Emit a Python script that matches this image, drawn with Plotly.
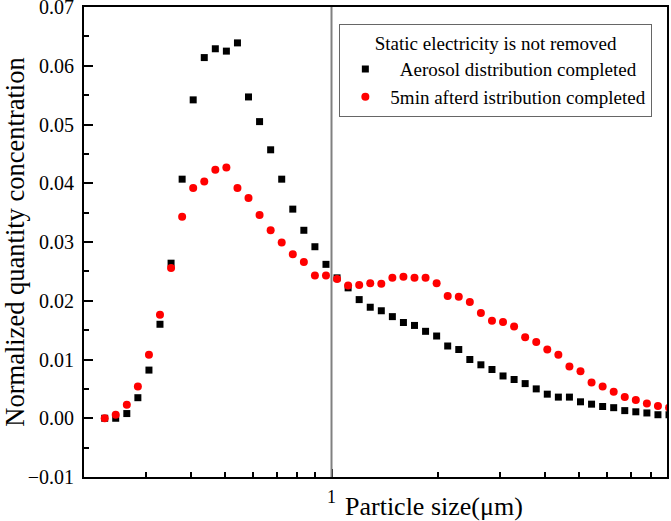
import math
import plotly.graph_objects as go

# particle size channels (um)
size_um = [0.2288, 0.2458, 0.2642, 0.2839, 0.3051, 0.3278, 0.3523, 0.3786, 0.4068, 0.4372,
           0.4698, 0.5048, 0.5425, 0.5829, 0.6264, 0.6732, 0.7234, 0.7774, 0.8354, 0.8977,
           0.9647, 1.0366, 1.1140, 1.1971, 1.2864, 1.3824, 1.4855, 1.5963, 1.7154, 1.8434,
           1.9810, 2.1288, 2.2876, 2.4583, 2.6417, 2.8388, 3.0506, 3.2782, 3.5228, 3.7856,
           4.0680, 4.3715, 4.6977, 5.0482, 5.4248, 5.8296, 6.2645, 6.7319, 7.2342, 7.7739,
           8.3539, 8.9772]

aerosol_done = [0.0000, 0.0000, 0.0008, 0.0035, 0.0082, 0.0160, 0.0264, 0.0407, 0.0542, 0.0614,
                0.0629, 0.0625, 0.0639, 0.0547, 0.0505, 0.0457, 0.0407, 0.0356, 0.0320, 0.0292,
                0.0262, 0.0239, 0.0222, 0.0202, 0.0189, 0.0183, 0.0173, 0.0163, 0.0158, 0.0148,
                0.0140, 0.0123, 0.0117, 0.0100, 0.0091, 0.0083, 0.0072, 0.0066, 0.0059, 0.0050,
                0.0041, 0.0036, 0.0036, 0.0028, 0.0024, 0.0020, 0.0018, 0.0013, 0.0011, 0.0009,
                0.0006, 0.0006]

after_5min = [0.0000, 0.0006, 0.0023, 0.0054, 0.0108, 0.0176, 0.0256, 0.0343, 0.0392, 0.0403,
              0.0423, 0.0427, 0.0392, 0.0375, 0.0346, 0.0320, 0.0299, 0.0279, 0.0266, 0.0243,
              0.0243, 0.0237, 0.0226, 0.0227, 0.0230, 0.0229, 0.0239, 0.0241, 0.0239, 0.0239,
              0.0230, 0.0208, 0.0207, 0.0198, 0.0179, 0.0166, 0.0164, 0.0156, 0.0138, 0.0130,
              0.0117, 0.0108, 0.0088, 0.0080, 0.0061, 0.0054, 0.0045, 0.0036, 0.0031, 0.0025,
              0.0021, 0.0018]

y_ticks = [-0.01, 0.00, 0.01, 0.02, 0.03, 0.04, 0.05, 0.06, 0.07]
x_minor = [0.3, 0.4, 0.5, 0.6, 0.7, 0.8, 0.9, 2, 3, 4, 5, 6, 7, 8]
x_major = [1]
x_range = [0.2, 8.86]
split_size = 1

FONT = "Liberation Serif, Times New Roman, serif"
NB = '\u00a0'

fig = go.Figure()
fig.add_trace(go.Scatter(x=size_um, y=aerosol_done, mode='markers',
                         name=NB * 2 + 'Aerosol distribution completed',
                         marker=dict(symbol='square', size=7, color='#000000')))
fig.add_trace(go.Scatter(x=size_um, y=after_5min, mode='markers', name='5min afterd istribution completed',
                         marker=dict(symbol='circle', size=8, color='#FF0000')))

fig.add_shape(type='line', x0=split_size, x1=split_size, xref='x', y0=0, y1=1, yref='paper',
              line=dict(color='#808080', width=2))

fig.add_annotation(text='Particle size(μm)', xref='paper', yref='paper', x=0.444, y=0,
                   xanchor='left', yanchor='middle', yshift=-29, showarrow=False,
                   font=dict(family=FONT, size=26, color='#000000'))

fig.update_xaxes(type='log', range=[math.log10(x_range[0]), math.log10(x_range[1])],
                 tickmode='array', tickvals=x_major, ticktext=[str(v) for v in x_major],
                 ticks='inside', ticklen=8, tickwidth=1.5, tickcolor='#000000',
                 minor=dict(tickmode='array', tickvals=x_minor, ticks='inside', ticklen=5,
                            tickwidth=1.5, tickcolor='#000000'),
                 showline=True, linecolor='#000000', linewidth=2, mirror=True,
                 showgrid=False, zeroline=False, automargin=False, ticklabelstandoff=2,
                 tickfont=dict(family=FONT, size=18, color='#000000'))
fig.update_yaxes(range=[-0.01, 0.07001], tickmode='array', tickvals=y_ticks,
                 ticktext=[f'{v:.2f}'.replace('-', '\u2212') for v in y_ticks],
                 ticks='inside', ticklen=9, tickwidth=1.5, tickcolor='#000000',
                 minor=dict(dtick=0.005, ticks='inside', ticklen=5, tickwidth=1.5, tickcolor='#000000'),
                 showline=True, linecolor='#000000', linewidth=2, mirror=True,
                 showgrid=False, zeroline=False, ticklabelstandoff=4, automargin=False,
                 ticklabeloverflow='allow',
                 tickfont=dict(family=FONT, size=20, color='#000000'),
                 title=dict(text='Normalized quantity concentration', standoff=11,
                            font=dict(family=FONT, size=26.5, color='#000000')))

fig.update_layout(width=671, height=521, margin=dict(l=84, r=4, t=7, b=44),
                  paper_bgcolor='white', plot_bgcolor='white', font=dict(family=FONT),
                  legend=dict(x=0.438, y=0.963, xanchor='left', yanchor='top',
                              bgcolor='white', bordercolor='#666666', borderwidth=1,
                              font=dict(family=FONT, size=19, color='#000000'),
                              itemwidth=40, tracegroupgap=0,
                              title=dict(text='Static electricity is not removed', side='top center',
                                         font=dict(family=FONT, size=19, color='#000000'))))

# page body has an 8px default margin; drop it so the figure fills the window
fig.write_html("out.html", config={'displayModeBar': False},
               post_script="document.body.style.margin='0';")
